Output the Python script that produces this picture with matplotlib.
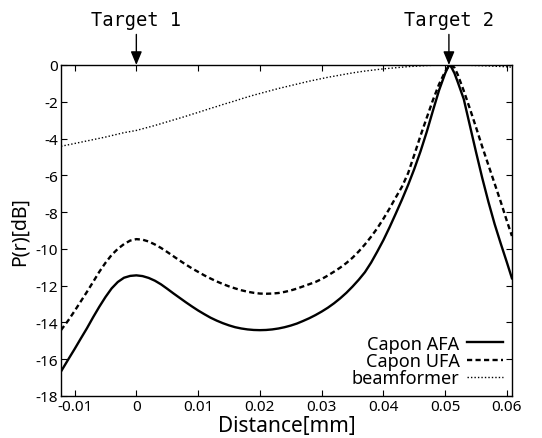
import matplotlib
matplotlib.use("Agg")
import matplotlib.pyplot as plt

plt.rcParams['font.family'] = ['Noto Sans', 'DejaVu Sans']
plt.rcParams['axes.unicode_minus'] = False

# valores (distancia em 1e-3 mm)
distancia_k = [-12.2, -11, -10, -9, -8, -7, -6, -5, -4, -3, -2, -1, 0, 1, 2, 3, 4, 5, 6, 7,
               8, 9, 10, 11, 12, 13, 14, 15, 16, 17, 18, 19, 20, 21, 22, 23, 24, 25, 26, 27,
               28, 29, 30, 31, 32, 33, 34, 35, 36, 37, 38, 39, 40, 41, 42, 43, 44, 45, 46, 47,
               48, 49, 50, 50.6, 51, 51.5, 52, 53, 54, 55, 56, 57, 58, 59, 60, 60.8]
distancia = [d / 1000 for d in distancia_k]

capon_afa = [-16.67, -16.0, -15.45, -14.88, -14.32, -13.72, -13.15, -12.62, -12.15, -11.8,
             -11.57, -11.47, -11.44, -11.48, -11.58, -11.73, -11.93, -12.17, -12.42, -12.66,
             -12.9, -13.13, -13.35, -13.55, -13.74, -13.9, -14.04, -14.16, -14.26, -14.33,
             -14.38, -14.41, -14.42, -14.41, -14.38, -14.33, -14.26, -14.17, -14.06, -13.92,
             -13.77, -13.6, -13.41, -13.2, -12.96, -12.69, -12.39, -12.05, -11.68, -11.27,
             -10.75, -10.15, -9.52, -8.82, -8.08, -7.32, -6.52, -5.65, -4.7, -3.65,
             -2.5, -1.38, -0.45, 0.0, -0.12, -0.45, -0.9, -1.85, -3.3, -4.75,
             -6.15, -7.45, -8.65, -9.72, -10.75, -11.6]

capon_ufa = [-14.42, -13.88, -13.38, -12.86, -12.34, -11.8, -11.25, -10.76, -10.33, -10.0,
             -9.74, -9.55, -9.47, -9.5, -9.6, -9.76, -9.95, -10.17, -10.4, -10.63,
             -10.85, -11.06, -11.25, -11.44, -11.61, -11.77, -11.91, -12.04, -12.15, -12.25,
             -12.33, -12.39, -12.43, -12.44, -12.43, -12.4, -12.34, -12.26, -12.16, -12.04,
             -11.92, -11.8, -11.64, -11.45, -11.24, -11.02, -10.77, -10.48, -10.14, -9.76,
             -9.34, -8.88, -8.36, -7.8, -7.2, -6.62, -5.88, -4.88, -3.85, -2.88,
             -1.92, -1.05, -0.35, -0.06, 0.0, -0.15, -0.5, -1.4, -2.38, -3.4,
             -4.45, -5.45, -6.45, -7.45, -8.5, -9.3]

beamformer = [-4.42, -4.34, -4.27, -4.2, -4.13, -4.06, -3.99, -3.92, -3.84, -3.76,
              -3.68, -3.62, -3.56, -3.47, -3.38, -3.29, -3.19, -3.09, -2.99, -2.89,
              -2.79, -2.68, -2.58, -2.47, -2.36, -2.26, -2.15, -2.05, -1.95, -1.84,
              -1.74, -1.64, -1.55, -1.46, -1.37, -1.28, -1.2, -1.12, -1.04, -0.96,
              -0.88, -0.81, -0.74, -0.67, -0.61, -0.55, -0.49, -0.43, -0.38, -0.33,
              -0.29, -0.25, -0.21, -0.18, -0.15, -0.12, -0.09, -0.07, -0.05, -0.03,
              -0.02, -0.01, 0.0, 0.0, 0.0, 0.0, -0.005, -0.01, -0.02, -0.03,
              -0.04, -0.05, -0.07, -0.08, -0.1, -0.12]

xticks = [-0.01, 0, 0.01, 0.02, 0.03, 0.04, 0.05, 0.06]
xtick_labels = ['-0.01', '0', '0.01', '0.02', '0.03', '0.04', '0.05', '0.06']
yticks = [0, -2, -4, -6, -8, -10, -12, -14, -16, -18]
alvos = [('Target 1', 0.0), ('Target 2', 0.0506)]

fig = plt.figure(figsize=(5.42, 4.39), dpi=100)
ax = fig.add_axes([0.1125, 0.0957, 0.832, 0.754])

ax.plot(distancia, capon_afa, color='black', lw=1.7, linestyle='-', label='Capon AFA')
ax.plot(distancia, capon_ufa, color='black', lw=1.7, linestyle=(0, (2.2, 1.4)), label='Capon UFA')
ax.plot(distancia, beamformer, color='black', lw=1.0, linestyle=(0, (1, 1.5)), label='beamformer')

ax.set_xlim(-0.0122, 0.0608)
ax.set_ylim(-18, 0)
ax.set_xticks(xticks)
ax.set_xticklabels(xtick_labels)
ax.set_yticks(yticks)
ax.set_yticklabels([str(v) for v in yticks])
ax.tick_params(direction='in', top=True, right=True, length=4, labelsize=11, pad=2)
for s in ax.spines.values():
    s.set_linewidth(1.0)

ax.set_xlabel('Distance[mm]', fontsize=15, labelpad=1)
ax.set_ylabel('P(r)[dB]', fontsize=14, labelpad=4)

# setas dos alvos
for nome, pos in alvos:
    ax.annotate(nome, xy=(pos, 0), xycoords='data', xytext=(0, 26), textcoords='offset points',
                ha='center', va='bottom', fontsize=13.5, family='DejaVu Sans Mono',
                annotation_clip=False,
                arrowprops=dict(arrowstyle='-|>,head_length=0.6,head_width=0.25',
                                color='black', lw=1.0, shrinkA=2, shrinkB=0))

leg = ax.legend(loc='lower right', frameon=False, markerfirst=False, fontsize=13,
                handlelength=2.0, handletextpad=0.4, labelspacing=-0.05,
                borderaxespad=0.3, borderpad=0.2)

fig.savefig('out.png', dpi=100)
